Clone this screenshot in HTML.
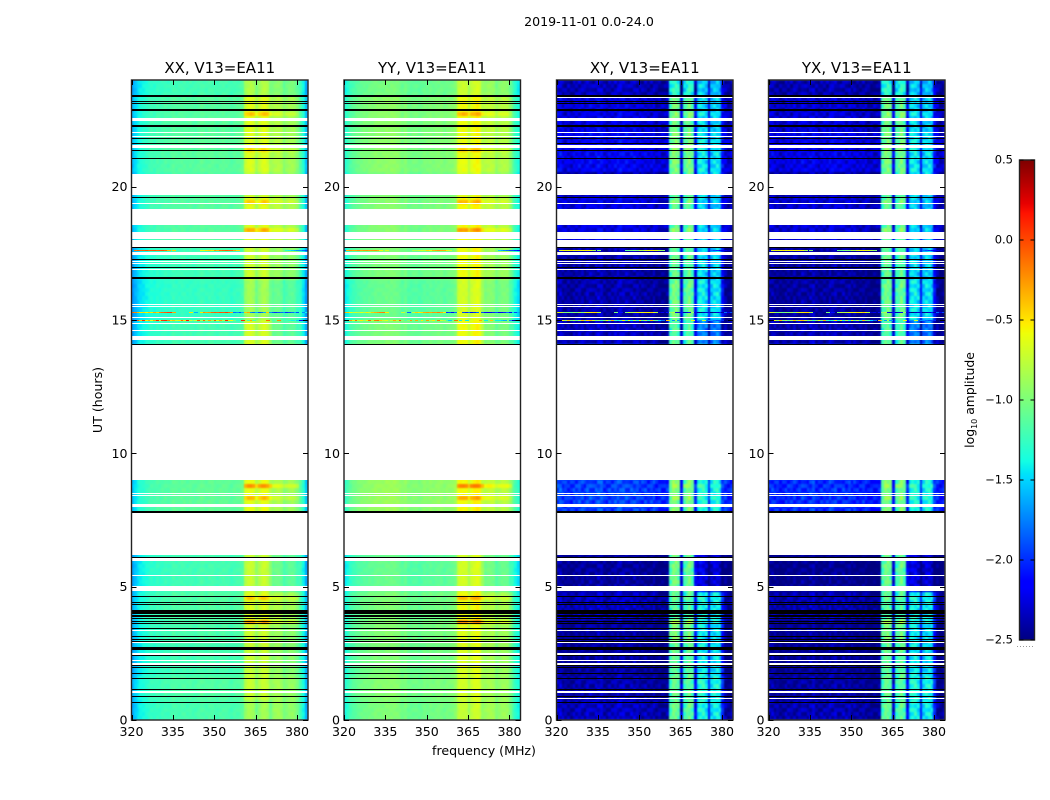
<!DOCTYPE html>
<html>
<head>
<meta charset="utf-8">
<title>2019-11-01 0.0-24.0</title>
<style>
html,body{margin:0;padding:0;background:#fff;}
svg{display:block;}
text{font-family:"DejaVu Sans","Liberation Sans",sans-serif;fill:#000;}
</style>
</head>
<body>
<svg id="chart" xmlns="http://www.w3.org/2000/svg" width="1050" height="800" viewBox="0 0 1050 800">
  <defs>
    <filter id="soften" color-interpolation-filters="sRGB" x="-2%" y="-2%" width="104%" height="104%">
      <feGaussianBlur stdDeviation="0.9"/>
    </filter>
  </defs>
  <text x="589" y="26" font-size="12.6" text-anchor="middle">2019-11-01 0.0-24.0</text>
  <text transform="translate(102,400) rotate(-90)" font-size="12.6" text-anchor="middle">UT (hours)</text>
  <text x="484" y="755" font-size="12.6" text-anchor="middle">frequency (MHz)</text>
  <text transform="translate(974,400) rotate(-90)" font-size="12.4" text-anchor="middle">log<tspan font-size="8" dy="3">10</tspan><tspan dy="-3"> amplitude</tspan></text>
  <line x1="1017" y1="646.5" x2="1035" y2="646.5" stroke="#999" stroke-width="1" stroke-dasharray="1,2"/>
</svg>
<script>
const n = null;
const panelTitles = ["XX, V13=EA11", "YY, V13=EA11", "XY, V13=EA11", "YX, V13=EA11"];
const freqTicks = [320, 335, 350, 365, 380];
const hourTicks = [0, 5, 10, 15, 20];
const colorTicks = [0.5, 0.0, -0.5, -1.0, -1.5, -2.0, -2.5];

const baseXX = [-1.6,-1.5,-1.42,-1.38,-1.34,-1.3,-1.27,-1.24,-1.25,-1.22,
  -1.23,-1.21,-1.19,-1.21,-1.18,-1.15,-1.18,-1.17,-1.15,-1.16,
  -1.18,-1.16,-1.18,-1.17,-1.16,-1.13,-1.15,-1.16,-1.14,-1.15,
  -1.16,-1.17,-1.15,-1.14,-1.15,-1.16,-1.18,-1.16,-1.15,-1.14,
  -1.1,-0.82,-0.76,-0.74,-0.78,-0.95,-0.84,-0.76,-0.74,-0.78,
  -0.96,-0.9,-0.86,-0.84,-0.88,-1.02,-0.95,-0.9,-0.9,-0.94,
  -1.02,-1.18,-1.35,-1.6];
const baseYY = [-1.4,-1.3,-1.2,-1.16,-1.12,-1.09,-1.07,-1.05,-1.05,-1.03,
  -1.02,-1.0,-0.99,-1.0,-0.99,-0.97,-0.99,-0.97,-0.97,-0.99,
  -1.02,-1.05,-1.02,-1.07,-1.09,-1.07,-1.07,-1.09,-1.07,-1.05,
  -1.05,-1.03,-1.05,-1.03,-1.02,-1.03,-1.05,-1.03,-1.02,-1.01,
  -0.95,-0.74,-0.7,-0.68,-0.7,-0.86,-0.72,-0.66,-0.64,-0.68,
  -0.88,-0.88,-0.85,-0.84,-0.86,-0.98,-0.92,-0.88,-0.88,-0.9,
  -1.03,-1.18,-1.3,-1.4];
const baseXY = [-2.37,-2.32,-2.42,-2.47,-2.42,-2.47,-2.42,-2.42,-2.37,-2.42,
  -2.42,-2.37,-2.37,-2.42,-2.37,-2.32,-2.37,-2.42,-2.47,-2.42,
  -2.42,-2.37,-2.37,-2.32,-2.37,-2.37,-2.42,-2.37,-2.37,-2.42,
  -2.42,-2.42,-2.42,-2.47,-2.42,-2.42,-2.47,-2.47,-2.5,-2.5,
  -2.45,-1.25,-1.1,-1.05,-1.15,-2.3,-1.3,-1.15,-1.1,-1.2,
  -2.2,-1.5,-1.4,-1.4,-1.5,-2.2,-1.55,-1.45,-1.45,-1.55,
  -2.1,-2.45,-2.5,-2.5];
const baseYX = [-2.42,-2.37,-2.42,-2.47,-2.47,-2.47,-2.42,-2.42,-2.42,-2.42,
  -2.42,-2.42,-2.37,-2.42,-2.42,-2.37,-2.37,-2.42,-2.47,-2.42,
  -2.42,-2.42,-2.37,-2.37,-2.37,-2.42,-2.42,-2.37,-2.42,-2.42,
  -2.42,-2.42,-2.47,-2.47,-2.42,-2.47,-2.47,-2.5,-2.5,-2.5,
  -2.45,-1.25,-1.12,-1.05,-1.15,-2.3,-1.3,-1.18,-1.1,-1.2,
  -2.2,-1.5,-1.43,-1.4,-1.5,-2.2,-1.55,-1.45,-1.47,-1.55,
  -2.1,-2.45,-2.5,-2.5];

const blockStarts = [0,0.7,1.6,2.7,3.6,4.8,6.2,7.8,14.1,15.0,16.5,17.8,19.6,20.5,22.0,23.3];
const levelsXX = [[-0.03,-0.1,-0.02],[0,0.03,0],[-0.05,0.03,-0.05],[-0.02,0.05,-0.03],[0,0.1,0.05],[-0.05,0.03,-0.2],[0,0,0],[0.05,0.14,0.03],[-0.05,0.08,-0.2],[-0.1,-0.1,-0.22],[-0.06,0.05,-0.03],[0.02,0.12,0.08],[0,0,0],[0.03,0.1,0.05],[0.02,0.12,0.05],[-0.05,-0.05,-0.1]];
const levelsYY = [[0,-0.05,0],[0.03,0,0],[0,0.03,0],[0.02,0.05,0.02],[0,0.1,0.05],[-0.08,0,-0.18],[0,0,0],[0.1,0.12,0.1],[0,0.1,-0.12],[-0.08,0,-0.12],[0,0.1,0],[0.03,0.12,0.1],[0,0,0],[0.05,0.08,0.08],[0.05,0.1,0.1],[-0.03,-0.03,-0.05]];
const levelsXY = [[0.05,0.02,0.05],[0,0,0.1],[-0.05,0,0],[-0.05,0.1,0],[0.05,-0.05,0.05],[-0.05,0.05,-0.8],[0,0,0],[0.45,0.1,0.1],[0.05,-0.05,-0.3],[0,0.05,0],[0,0,-0.05],[0.15,0,-0.1],[0,0,0],[0.2,0.1,0],[0.15,0.05,-0.05],[0.05,-0.2,-0.1]];
const levelsYX = [[0.03,0,0.05],[-0.02,0,0.1],[-0.05,0,0],[-0.05,0.08,0],[0.03,-0.05,0.05],[-0.08,0.03,-0.8],[0,0,0],[0.4,0.08,0.1],[0.03,-0.05,-0.3],[-0.02,0.03,0],[-0.02,0,-0.05],[0.12,0,-0.1],[0,0,0],[0.18,0.08,0],[0.12,0.05,-0.05],[0.03,-0.2,-0.1]];
const textureAmount = [0.035, 0.035, 0.16, 0.16];
const texture = [
  [0.3,-0.6,0.9,-0.2,0.5,-0.9,0.1,0.7,-0.4,0.6,-0.7,0.2,-0.1],
  [-0.5,0.8,-0.1,0.6,-0.8,0.3,0.9,-0.3,0.2,-0.6,0.4,0.8,-0.7],
  [0.7,0.1,-0.7,0.4,0.2,-0.4,-0.6,0.8,0.5,-0.2,-0.9,0.3,0.6],
  [-0.2,-0.8,0.5,0.9,-0.5,0.7,0.2,-0.7,0.1,0.9,0.3,-0.5,-0.3],
  [0.9,0.4,-0.3,-0.7,0.8,0.1,-0.2,0.5,-0.9,0.4,0.7,-0.1,0.2],
  [-0.7,0.2,0.6,0.1,-0.3,-0.8,0.7,-0.1,0.8,-0.5,0.1,0.6,-0.4],
  [0.4,-0.3,-0.9,0.7,0.3,0.6,-0.5,0.2,-0.2,0.8,-0.6,-0.4,0.9]];

const hotHours = [3.6, 4.5, 8.7, 8.25, 18.3, 19.3, 22.65, 21.3];
const hotBoost = [0.42, 0.25, 0.38, 0.25, 0.3, 0.2, 0.25, 0.2];
const hotScale = [1, 1, 0.4, 0.4];

const whiteSpans = [[22.474,22.575],[22.001,22.05],[21.874,21.911],[21.45,21.574],[19.688,20.475],[19.35,19.388],[18.563,19.151],[18.038,18.311],[17.738,18.0],[17.438,17.561],[17.186,17.224],[17.089,17.126],[16.886,16.924],[15.551,15.589],[15.488,15.514],[15.075,15.113],[14.85,14.888],[14.588,14.625],[14.25,14.4],[9.0,14.074],[8.494,8.531],[8.411,8.449],[7.988,8.1],[6.188,7.763],[5.963,6.075],[5.4,5.438],[4.838,5.014],[3.338,3.375],[2.888,2.925],[2.449,2.513],[2.213,2.261],[2.081,2.119],[1.031,1.069]];
const crossWhiteSpans = [[23.33,23.38],[0.788,0.836]];
const blackSpans = [[23.381,23.438],[23.175,23.213],[23.1,23.138],[22.838,22.894],[22.256,22.294],[21.788,21.825],[21.6,21.638],[21.338,21.375],[21.038,21.075],[19.575,19.613],[17.7,17.738],[17.25,17.288],[16.95,16.988],[16.538,16.594],[14.063,14.1],[7.763,7.849],[6.075,6.113],[4.594,4.65],[4.388,4.425],[4.313,4.35],[3.964,4.125],[3.881,3.919],[3.788,3.825],[3.694,3.731],[3.619,3.656],[3.413,3.45],[3.113,3.15],[3.019,3.056],[2.944,2.981],[2.636,2.726],[2.4,2.438],[2.044,2.081],[1.95,1.988],[1.714,1.763],[1.538,1.575],[1.125,1.163],[0.863,0.9],[0.638,0.675]];

const impulseHours = [17.63, 15.31, 15.0, 19.15, 18.3];
const impulseOffset = [0, -0.22, -0.5, -0.5];
const impulseChannels = [
  [-1.6,-0.15,-0.05,-0.1,-0.08,-0.02,-0.1,-0.05,-0.03,-0.08,-0.05,-0.02,-0.1,-0.35,n,-0.45,n,n,n,n,n,n,n,n,n,-0.6,-0.6,-0.5,-0.45,-0.5,-0.25,-0.35,-0.15,-0.1,-0.05,-0.1,-0.12,-0.3,-0.45,n,n,n,n,n,n,n,n,n,n,n,n,n,n,n,n,n,-1.3,-1.4,-1.5,-1.6,-1.7,-1.7,-1.8,-1.9],
  [-0.1,-0.2,-0.35,-0.5,-0.45,-0.55,-0.4,-0.5,-0.3,-0.45,-0.2,-0.12,-0.05,0.02,0.05,-0.3,n,n,n,n,n,-0.5,n,-1.6,n,-0.5,-0.2,-0.3,-0.25,-0.1,-0.05,-0.1,-0.02,-0.05,0.05,-0.1,-0.3,-1.8,-1.7,-1.9,-1.6,-0.4,-0.3,-1.7,-1.8,-1.6,-1.9,-1.8,-1.6,-0.4,-1.7,-1.9,-2.0,-1.9,-1.8,-1.7,-2.0,-1.9,-1.8,-1.6,-1.9,-1.3,-1.7,-1.4],
  [-2.3,-2.1,-0.05,-0.4,0.1,-0.5,-0.3,-0.6,-0.3,0.1,-0.5,0.05,0.1,-0.2,-0.5,-0.4,-0.7,-0.5,-0.1,-0.5,0.15,-0.7,-0.9,-0.7,-0.05,-0.8,-0.1,-0.8,-0.3,-0.8,-0.05,-0.6,-0.3,-0.8,0.1,-0.5,-0.6,-1.0,-1.3,n,0.1,n,-1.2,-0.3,-1.2,n,n,n,n,-0.1,n,-1.2,n,-0.2,n,-1.2,-1.2,-1.3,-1.4,n,-1.5,-2.1,-2.2,-2.3],
  [n,n,n,n,n,n,n,-0.05,n,n,n,n,-0.05,n,n,n,n,n,n,-0.1,n,n,n,n,n,n,n,-0.1,n,-0.3,-0.3,n,n,n,-0.1,n,n,n,n,n,n,n,n,n,n,n,n,n,n,n,n,n,n,n,n,n,n,n,n,n,n,n,n,n],
  [n,n,n,n,n,n,n,n,n,n,n,n,-0.6,n,n,n,n,n,n,n,n,n,n,n,n,n,-0.02,0.1,n,n,n,n,n,n,n,n,n,n,n,n,n,n,n,n,n,n,n,n,n,n,n,n,n,n,n,n,n,n,n,n,n,n,n,n]];

const jetRed = [[0,0],[0.35,0],[0.66,1],[0.89,1],[1,0.5]];
const jetGreen = [[0,0],[0.125,0],[0.375,1],[0.64,1],[0.91,0],[1,0]];
const jetBlue = [[0,0.5],[0.11,1],[0.34,1],[0.65,0],[1,0]];

const NS = "http://www.w3.org/2000/svg";
const svg = document.getElementById("chart");
const panelLeft = [131.5, 344, 556.5, 768.5];
const panelWidth = 176.5, panelTop = 80, panelBottom = 720;
const freqMin = 320, freqMax = 384, hourMin = 0, hourMax = 24, colorMin = -2.5, colorMax = 0.5;
const bases = [baseXX, baseYY, baseXY, baseYX];
const levels = [levelsXX, levelsYY, levelsXY, levelsYX];

function xScale(p, f){ return panelLeft[p] + (f - freqMin) / (freqMax - freqMin) * panelWidth; }
function yScale(h){ return panelBottom - (h - hourMin) / (hourMax - hourMin) * (panelBottom - panelTop); }
function colorScale(v){ return 640 - (v - colorMin) / (colorMax - colorMin) * 480; }
function segment(stops, t){
  for (let i = 1; i < stops.length; i++) {
    if (t <= stops[i][0]) {
      const a = stops[i-1], b = stops[i];
      return a[1] + (b[1]-a[1]) * (t-a[0]) / (b[0]-a[0]);
    }
  }
  return stops[stops.length-1][1];
}
function jet(v){
  const t = Math.max(0, Math.min(1, (v - colorMin) / (colorMax - colorMin)));
  return "rgb(" + Math.round(255*segment(jetRed,t)) + "," + Math.round(255*segment(jetGreen,t)) + "," + Math.round(255*segment(jetBlue,t)) + ")";
}
function shape(tag, attrs, parent){
  const el = document.createElementNS(NS, tag);
  for (const k in attrs) el.setAttribute(k, attrs[k]);
  (parent || svg).appendChild(el);
  return el;
}
function blockIndex(h){
  let b = 0;
  for (let i = 0; i < blockStarts.length; i++) if (h >= blockStarts[i]) b = i;
  return b;
}
function bandIndex(f){
  if (f >= 361 && f < 371) return 1;
  if (f >= 371 && f < 381) return 2;
  return 0;
}
function hotAt(h){
  for (let i = 0; i < hotHours.length; i++) if (h >= hotHours[i] - 1e-6 && h < hotHours[i] + rowStep - 1e-6) return hotBoost[i];
  return 0;
}
function spanRect(group, p, span, fill){
  const y1 = Math.round(yScale(span[1]));
  const y2 = Math.max(y1 + 1, Math.round(yScale(span[0])));
  const r = shape("rect", {x: xScale(p, freqMin), y: y1, width: panelWidth, height: y2 - y1, fill: fill}, group);
  return r;
}

const rowStep = 0.15;
panelTitles.forEach(function(title, p){
  const group = shape("g", {"shape-rendering": "crispEdges"});
  
  
  const cells = shape("g", {filter: "url(#soften)"}, group);
  
  
  const base = bases[p], lev = levels[p];
  const frag = document.createDocumentFragment();
  for (let r = 0; r * rowStep < hourMax - 1e-6; r++) {
    const h = r * rowStep;
    if (h >= 9.3 && h + rowStep <= 13.8) continue;
    const y1 = Math.round(yScale(h + rowStep)), y2 = Math.round(yScale(h));
    const rowLevels = lev[blockIndex(h)];
    const hot = hotAt(h);
    for (let c = 0; c < base.length; c++) {
      const f = freqMin + c;
      const band = bandIndex(f);
      const boost = band === 1 ? hot * hotScale[p] : band === 2 ? 0.5 * hot * hotScale[p] : 0;
      const v = base[c] + rowLevels[band] + boost + textureAmount[p] * texture[r % 7][c % 13];
      const x1 = Math.floor(xScale(p, f)), x2 = Math.ceil(xScale(p, f + 1));
      const cell = document.createElementNS(NS, "rect");
      cell.setAttribute("x", x1);
      cell.setAttribute("y", y1);
      cell.setAttribute("width", x2 - x1);
      cell.setAttribute("height", y2 - y1);
      cell.setAttribute("fill", jet(v));
      
      
      frag.appendChild(cell);
    }
  }
  cells.appendChild(frag);

  impulseHours.forEach(function(h, i){
    const row = impulseChannels[i];
    row.forEach(function(v, c){
      if (v === null) return;
      const x1 = Math.floor(xScale(p, freqMin + c)), x2 = Math.ceil(xScale(p, freqMin + c + 1));
      const spark = shape("rect", {x: x1, y: Math.round(yScale(h)), width: x2 - x1, height: 1, fill: jet(v + impulseOffset[p])}, group);
      
      
    });
  });

  whiteSpans.forEach(function(s){
    const rect = spanRect(group, p, s, "#fff");
    
    
  });
  if (p >= 2) crossWhiteSpans.forEach(function(s){
    const rect = spanRect(group, p, s, "#fff");
    
    
  });
  blackSpans.forEach(function(s){
    const rect = spanRect(group, p, s, "#000");
    
    
  });

  const maskLeft = shape("rect", {x: panelLeft[p] - 4, y: panelTop - 4, width: 4, height: panelBottom - panelTop + 8, fill: "#fff"});
  
  
  const maskRight = shape("rect", {x: panelLeft[p] + panelWidth, y: panelTop - 4, width: 4, height: panelBottom - panelTop + 8, fill: "#fff"});
  
  
  const maskTop = shape("rect", {x: panelLeft[p] - 4, y: panelTop - 4, width: panelWidth + 8, height: 4, fill: "#fff"});
  
  
  const maskBottom = shape("rect", {x: panelLeft[p] - 4, y: panelBottom, width: panelWidth + 8, height: 4, fill: "#fff"});
  
  

  const frame = shape("rect", {x: panelLeft[p], y: panelTop, width: panelWidth, height: panelBottom - panelTop, fill: "none", stroke: "#222", "stroke-width": 1.4});
  
  

  const heading = shape("text", {x: panelLeft[p] + panelWidth / 2, y: 73, "font-size": 15, "text-anchor": "middle"});
  heading.textContent = title;
  
  

  freqTicks.forEach(function(f){
    const x = Math.round(xScale(p, f)) + 0.5;
    const t1 = shape("line", {x1: x, x2: x, y1: panelBottom, y2: panelBottom - 5, stroke: "#000"});
    
    
    const t2 = shape("line", {x1: x, x2: x, y1: panelTop, y2: panelTop + 5, stroke: "#000"});
    
    
    const lab = shape("text", {x: xScale(p, f), y: 736, "font-size": 12.6, "text-anchor": "middle"});
    lab.textContent = String(f);
    
    
  });
  hourTicks.forEach(function(h){
    const y = Math.round(yScale(h)) + 0.5;
    const l1 = shape("line", {x1: panelLeft[p], x2: panelLeft[p] + 5, y1: y, y2: y, stroke: "#000"});
    
    
    const l2 = shape("line", {x1: panelLeft[p] + panelWidth, x2: panelLeft[p] + panelWidth - 5, y1: y, y2: y, stroke: "#000"});
    
    
    const lab = shape("text", {x: panelLeft[p] - 4, y: yScale(h) + 4.5, "font-size": 12.6, "text-anchor": "end"});
    lab.textContent = String(h);
    
    
  });
});

const cbarGroup = shape("g", {"shape-rendering": "crispEdges"});


const cbarSteps = 240;
for (let i = 0; i < cbarSteps; i++) {
  const v = colorMin + (i + 0.5) / cbarSteps * (colorMax - colorMin);
  const top = colorScale(colorMin + (i + 1) / cbarSteps * (colorMax - colorMin));
  const swatch = shape("rect", {x: 1019.5, y: top, width: 15, height: 2.5, fill: jet(v)}, cbarGroup);
  
  
}
const cbarFrame = shape("rect", {x: 1019.5, y: 160, width: 15, height: 480, fill: "none", stroke: "#222", "stroke-width": 1.4});


colorTicks.forEach(function(v){
  const y = colorScale(v);
  const tl = shape("line", {x1: 1019.5, x2: 1023.5, y1: y, y2: y, stroke: "#000"});
  
  
  const tr = shape("line", {x1: 1034.5, x2: 1030.5, y1: y, y2: y, stroke: "#000"});
  
  
  const lab = shape("text", {x: 1013, y: y + 3.5, "font-size": 11.5, "text-anchor": "end"});
  lab.textContent = v.toFixed(1).replace("-", "\u2212");
  
  
});
</script>
</body>
</html>
